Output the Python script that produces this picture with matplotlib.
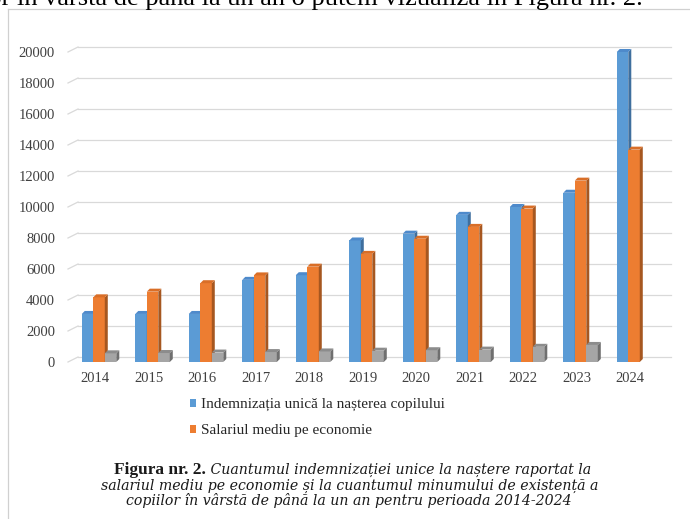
import numpy as np
import matplotlib
matplotlib.use('Agg')
import matplotlib.pyplot as plt
from matplotlib.patches import Polygon
from matplotlib.lines import Line2D

# Data (lei)
years = ['2014', '2015', '2016', '2017', '2018', '2019', '2020', '2021', '2022', '2023', '2024']
indemnizatie = [3100, 3100, 3100, 5300, 5600, 7840, 8280, 9494, 10000, 10920, 20000]
salariu = [4172, 4538, 5084, 5587, 6150, 6975, 7953, 8716, 9900, 11700, 13700]
minim_existenta = [560, 580, 610, 640, 680, 730, 760, 800, 980, 1100, np.nan]
label_ind = 'Indemnizația unică la nașterea copilului'
label_sal = 'Salariul mediu pe economie'
yticks = list(range(0, 20001, 2000))

W, H = 690, 519
fig = plt.figure(figsize=(W / 100, H / 100), dpi=100)
ax = fig.add_axes([78 / W, 1 - 362 / H, 593 / W, 310 / H])

x = np.arange(len(years))
width = 0.215
ax.set_xlim(-0.318, 10.766)
ax.set_ylim(0, 20000)

# 3D depth of the bars in data units (about 3 px)
dx = 3 / 53.5
dy = 3 * 20000 / 310

series = [
    (indemnizatie, -0.14, '#5B9BD5', '#3F6F9E', '#4E8ACB', label_ind),
    (salariu, 0.075, '#ED7D31', '#A65720', '#D96E27', label_sal),
    (minim_existenta, 0.29, '#A5A5A5', '#6F6F6F', '#8C8C8C', None),
]
handles = []
for z, (vals, off, front, side, top, lab) in enumerate(series):
    bars = ax.bar(x + off, vals, width, color=front, zorder=3 + z, clip_on=False)
    for p in bars:
        h = p.get_height()
        if not np.isfinite(h):
            continue
        x0 = p.get_x()
        x1 = x0 + p.get_width()
        ax.add_patch(Polygon([(x1, 0), (x1, h), (x1 + dx, h + dy), (x1 + dx, dy)],
                             closed=True, color=side, zorder=3 + z, clip_on=False, lw=0))
        ax.add_patch(Polygon([(x0, h), (x1, h), (x1 + dx, h + dy), (x0 + dx, h + dy)],
                             closed=True, color=top, zorder=3 + z, clip_on=False, lw=0))
    if lab:
        handles.append((bars, lab))

# back wall grid lines with little slanted connectors
depth = 5 * 20000 / 310
tr = ax.get_yaxis_transform()
for v in yticks:
    ax.plot([0, 1], [v + depth, v + depth], transform=tr, color='#d9d9d9', lw=0.9, zorder=1, clip_on=False)
    ax.plot([-10 / 593, 0], [v, v + depth], transform=tr, color='#d9d9d9', lw=0.9, zorder=1, clip_on=False)

for s in ax.spines.values():
    s.set_visible(False)
ax.set_yticks(yticks)
ax.set_yticklabels([str(v) for v in yticks])
ax.set_xticks(x)
ax.set_xticklabels(years)
ax.tick_params(axis='y', length=0, pad=16.5, labelsize=10.5, labelcolor='#404040')
ax.tick_params(axis='x', length=0, pad=7.5, labelsize=10.5, labelcolor='#404040')
for t in ax.get_xticklabels() + ax.get_yticklabels():
    t.set_family('Liberation Serif')

fig.legend([h[0] for h in handles], [h[1] for h in handles], loc='upper left',
           bbox_to_anchor=(190 / W, 1 - 398 / H), frameon=False, borderpad=0, borderaxespad=0,
           handlelength=0.42, handleheight=0.42, handletextpad=0.3, labelspacing=0.85,
           prop={'family': 'Liberation Serif', 'size': 11}, labelcolor='#262626')

# frame of the picture
fig.add_artist(Line2D([7.5 / W, 7.5 / W], [0, 1 - 9 / H], color='#d0d0d0', lw=0.9))
fig.add_artist(Line2D([7.5 / W, 1], [1 - 9 / H, 1 - 9 / H], color='#d0d0d0', lw=0.9))

# clipped line of running text above the picture
fig.text(643 / W, 1 - 5 / H, 'copiilor în vârsta de până la un an o putem vizualiza în Figura nr. 2.',
         ha='right', va='baseline', family='Liberation Serif', size=19, color='black')

# caption
r = fig.canvas.get_renderer()
t1 = fig.text(0, 1 - 470 / H, 'Figura nr. 2.', family='Liberation Serif', weight='bold',
              size=12.5, va='center', color='#1a1a1a')
t2 = fig.text(0, 1 - 470 / H, ' Cuantumul indemnizației unice la naștere raportat la',
              family='DejaVu Serif', style='italic', size=10.2, va='center', color='#1a1a1a')
w1 = t1.get_window_extent(r).width
w2 = t2.get_window_extent(r).width
start = 353 - (w1 + w2) / 2
t1.set_x(start / W)
t2.set_x((start + w1) / W)
fig.text(350 / W, 1 - 486 / H, 'salariul mediu pe economie și la cuantumul minumului de existență a',
         family='DejaVu Serif', style='italic', size=10.2, ha='center', va='center', color='#1a1a1a')
fig.text(349 / W, 1 - 501 / H, 'copiilor în vârstă de până la un an pentru perioada 2014-2024',
         family='DejaVu Serif', style='italic', size=10.2, ha='center', va='center', color='#1a1a1a')

fig.savefig('out.png', dpi=100)
